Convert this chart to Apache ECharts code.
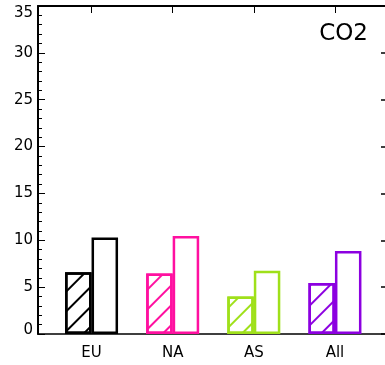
<!DOCTYPE html>
<html>
<head>
<meta charset="utf-8">
<script src="https://cdn.jsdelivr.net/npm/echarts@6/dist/echarts.min.js"></script>
<style>html,body{margin:0;padding:0;background:#fff;}#c{width:385px;height:365px;}</style>
</head>
<body>
<div id="c"></div>
<script>
var categories = ['EU', 'NA', 'AS', 'All'];
var hatchedValues = [6.6, 6.45, 4.0, 5.45];
var openValues = [10.3, 10.45, 6.75, 8.85];
var groupColors = ['#000000', '#ff10a0', '#9fe01a', '#8c00e0'];
var yTicks = [0, 5, 10, 15, 20, 25, 30, 35];
var title = 'CO2';

var chart = echarts.init(document.getElementById('c'), null, {renderer: 'canvas'});
var FONT = 'DejaVu Sans';
var xMin = -0.66, xMax = 3.617;
var yMin = 0, yMax = 35;
var centers = categories.map(function (c, i) { return i; });

function hatchedData() {
  return hatchedValues.map(function (v, i) {
    return {
      value: [i, v],
      itemStyle: {
        color: '#ffffff',
        borderColor: groupColors[i],
        decal: {
          symbol: 'rect', symbolSize: 1,
          dashArrayX: [1, 0], dashArrayY: [1.5, 11.5],
          rotation: -Math.PI / 4,
          color: groupColors[i],
          backgroundColor: 'rgba(0,0,0,0)'
        }
      }
    };
  });
}
function openData() {
  return openValues.map(function (v, i) {
    return { value: [i, v], itemStyle: { color: '#ffffff', borderColor: groupColors[i] } };
  });
}

chart.setOption({
  animation: false,
  backgroundColor: '#ffffff',
  title: {
    text: title, right: 12, top: 18,
    textStyle: { fontFamily: FONT, fontSize: 23, fontWeight: 'normal', color: '#000' }
  },
  grid: { left: 38, right: 0, top: 6, bottom: 31, containLabel: false },
  xAxis: [{
    type: 'value', min: xMin, max: xMax, position: 'bottom',
    splitLine: { show: false },
    axisLine: { show: true, onZero: false, lineStyle: { color: '#000', width: 1.5 } },
    axisTick: { show: false },
    axisLabel: {
      show: true, customValues: centers, margin: 12,
      fontFamily: FONT, fontSize: 15, color: '#000',
      formatter: function (v) { return categories[Math.round(v)] || ''; }
    }
  }, {
    type: 'value', min: xMin, max: xMax, position: 'top',
    splitLine: { show: false },
    axisLine: { show: true, onZero: false, lineStyle: { color: '#000', width: 2 } },
    axisTick: { show: true, inside: true, length: 7, customValues: centers, lineStyle: { color: '#000', width: 1 } },
    axisLabel: { show: false }
  }],
  yAxis: [{
    type: 'value', min: yMin, max: yMax, interval: 5, position: 'left',
    splitLine: { show: false },
    axisLine: { show: true, onZero: false, lineStyle: { color: '#000', width: 2 } },
    axisTick: { show: true, inside: true, length: 7, lineStyle: { color: '#000', width: 1 } },
    minorTick: { show: true, splitNumber: 5, length: 4, lineStyle: { color: '#000', width: 1 } },
    axisLabel: {
      margin: 5, color: '#000', fontFamily: FONT, fontSize: 15,
      customValues: yTicks,
      formatter: function (v) {
        if (v === yMax) return '{hi|' + v + '}';
        if (v === yMin) return '{lo|' + v + '}';
        return '{n|' + v + '}';
      },
      rich: {
        n: { fontFamily: FONT, fontSize: 15, color: '#000' },
        hi: { fontFamily: FONT, fontSize: 15, color: '#000', padding: [14, 0, 0, 0] },
        lo: { fontFamily: FONT, fontSize: 15, color: '#000', padding: [0, 0, 8, 0] }
      }
    }
  }, {
    type: 'value', min: yMin, max: yMax, interval: 5, position: 'right',
    splitLine: { show: false },
    axisLine: { show: true, onZero: false, lineStyle: { color: 'rgba(0,0,0,0)', width: 0 } },
    axisTick: { show: true, inside: true, length: 4, lineStyle: { color: '#000', width: 1.5 } },
    axisLabel: { show: false }
  }],
  series: [{
    type: 'bar', name: 'hatched', xAxisIndex: 0, yAxisIndex: 0,
    barWidth: 26.5, barGap: '0%',
    itemStyle: { borderWidth: 2.5 },
    data: hatchedData()
  }, {
    type: 'bar', name: 'open', xAxisIndex: 0, yAxisIndex: 0,
    barWidth: 26.5, barGap: '0%',
    itemStyle: { borderWidth: 2.5 },
    data: openData()
  }]
});
</script>
</body>
</html>
